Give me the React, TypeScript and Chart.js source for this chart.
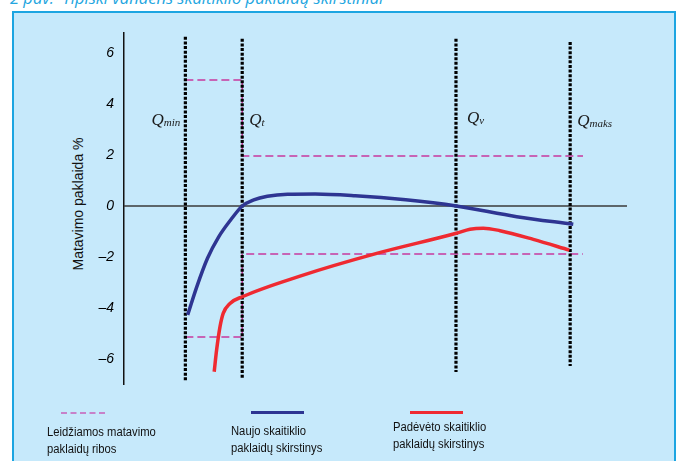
import React, { useEffect, useRef } from "react";
import { Chart, registerables } from "chart.js";

Chart.register(...registerables);

// ---- data ----
const X_MIN = 0;
const X_MAX = 100;
const Y_MIN = -6.98;
const Y_MAX = 6.78;

const yTickValues = [6, 4, 2, 0, -2, -4, -6];
const yTickLabels = ["6", "4", "2", "0", "–2", "–4", "–6"];

const qSubscripts = ["min", "t", "v", "maks"];
const qX = [12.2, 23.5, 66.0, 88.7];
const qTop = [6.63, 6.55, 6.55, 6.43];
const qBottom = [-6.86, -6.78, -6.51, -6.27];

const newMeterX = [12.66, 14.5, 16.6, 18.8, 21.2, 23.52, 25.8, 28.5, 32.5, 38, 46, 56, 66.06, 78.07, 89.32];
const newMeterY = [-4.27, -3.15, -2.05, -1.22, -0.55, 0.0, 0.24, 0.38, 0.46, 0.47, 0.4, 0.24, 0.0, -0.42, -0.72];

const oldMeterX = [17.93, 18.41, 19.09, 19.72, 21.07, 23.52, 34.99, 50.24, 66.06, 68.79, 71.43, 74.75, 81.37, 88.53];
const oldMeterY = [-6.5, -5.65, -4.73, -4.21, -3.82, -3.56, -2.75, -1.86, -1.07, -0.91, -0.87, -0.97, -1.31, -1.73];

const upperLimitX = [12.2, 23.5, 23.5, 91.25];
const upperLimitY = [4.94, 4.94, 1.96, 1.96];
const lowerLimitX = [12.2, 23.5, 23.5, 91.25];
const lowerLimitY = [-5.14, -5.14, -1.88, -1.88];

const zeroLineX = [0, 100];
const zeroLineY = [0, 0];

const titleText = "2 pav.  Tipiški vandens skaitiklio paklaidų skirstiniai";
const yAxisTitle = "Matavimo paklaida %";
const legendLabels = [
  ["Leidžiamos matavimo", "paklaidų ribos"],
  ["Naujo skaitiklio", "paklaidų skirstinys"],
  ["Padėvėto skaitiklio", "paklaidų skirstinys"],
];

// ---- styles / layout ----
const BLUE = "#2e3592";
const RED = "#ef2a31";
const MAGENTA = "#c8399e";
const LEGEND_MAGENTA = "#c781c9";
const qLabelOffsets = [-5, 7, 11, 7]; // px from the dotted line
const qLabelAlign: CanvasTextAlign[] = ["right", "left", "left", "left"];
const qLabelBaseline = [125, 125, 123, 126];

const zip = (xs: number[], ys: number[]) => xs.map((x, i) => ({ x, y: ys[i] }));

const qLabelPlugin = {
  id: "qLabels",
  afterDatasetsDraw(chart: any) {
    const { ctx, scales } = chart;
    ctx.save();
    ctx.fillStyle = "#1a1a1a";
    qX.forEach((qx, i) => {
      const px = scales.x.getPixelForValue(qx) + qLabelOffsets[i];
      const py = qLabelBaseline[i];
      ctx.font = "italic 17px 'Liberation Serif', 'DejaVu Serif', serif";
      const qw = ctx.measureText("Q").width;
      ctx.font = "italic 11px 'Liberation Serif', 'DejaVu Serif', serif";
      const sw = ctx.measureText(qSubscripts[i]).width;
      const start = qLabelAlign[i] === "right" ? px - qw - sw : px;
      ctx.textAlign = "left";
      ctx.textBaseline = "alphabetic";
      ctx.font = "italic 17px 'Liberation Serif', 'DejaVu Serif', serif";
      ctx.fillText("Q", start, py);
      ctx.font = "italic 11px 'Liberation Serif', 'DejaVu Serif', serif";
      ctx.fillText(qSubscripts[i], start + qw, py + 1);
    });
    ctx.restore();
  },
};

export default function App() {
  const canvasRef = useRef<HTMLCanvasElement | null>(null);

  useEffect(() => {
    if (!canvasRef.current) return;
    const lineBase = { pointRadius: 0, fill: false, showLine: true };
    const dotted = qX.map((x, i) => ({
      ...lineBase,
      data: [
        { x, y: qTop[i] },
        { x, y: qBottom[i] },
      ],
      borderColor: "#000",
      borderWidth: 3.2,
      borderDash: [3, 1.6],
      borderCapStyle: "butt",
      tension: 0,
    }));
    const chart = new Chart(canvasRef.current, {
      type: "line",
      data: {
        datasets: [
          {
            ...lineBase,
            data: zip(oldMeterX, oldMeterY),
            borderColor: RED,
            borderWidth: 3.5,
            cubicInterpolationMode: "monotone",
            borderCapStyle: "butt",
          },
          {
            ...lineBase,
            data: zip(newMeterX, newMeterY),
            borderColor: BLUE,
            borderWidth: 3.5,
            cubicInterpolationMode: "monotone",
            borderCapStyle: "butt",
          },
          ...dotted,
          {
            ...lineBase,
            data: zip(upperLimitX, upperLimitY),
            borderColor: MAGENTA,
            borderWidth: 1.5,
            borderDash: [8, 4],
            tension: 0,
          },
          {
            ...lineBase,
            data: zip(lowerLimitX, lowerLimitY),
            borderColor: MAGENTA,
            borderWidth: 1.5,
            borderDash: [8, 4],
            tension: 0,
          },
          {
            ...lineBase,
            data: zip(zeroLineX, zeroLineY),
            borderColor: "#3a3a3a",
            borderWidth: 1.5,
            tension: 0,
          },
        ] as any,
      },
      options: {
        animation: false,
        responsive: false,
        events: [],
        layout: { padding: { top: 33, bottom: 77, left: 0, right: 53 } },
        plugins: { legend: { display: false }, tooltip: { enabled: false } },
        scales: {
          x: { type: "linear", min: X_MIN, max: X_MAX, display: false },
          y: {
            type: "linear",
            min: Y_MIN,
            max: Y_MAX,
            afterFit: (s: any) => {
              s.width = 124;
            },
            afterBuildTicks: (s: any) => {
              s.ticks = yTickValues.map((v) => ({ value: v }));
            },
            ticks: {
              padding: 10,
              color: "#000",
              font: { family: "'Liberation Sans', Arial, sans-serif", size: 14, style: "italic" },
              callback: (v: any) => {
                const idx = yTickValues.indexOf(Number(v));
                return idx >= 0 ? yTickLabels[idx] : "";
              },
            },
            grid: { display: false, drawTicks: false },
            border: { display: true, color: "#111", width: 1.5 },
          },
        },
      } as any,
      plugins: [qLabelPlugin],
    });
    return () => chart.destroy();
  }, []);

  const legendFont = "'Liberation Sans', Arial, sans-serif";

  return (
    <div
      style={{
        position: "fixed",
        left: 0,
        top: 0,
        width: 680,
        height: 461,
        overflow: "hidden",
        background: "#fff",
      }}
    >
      <div
        style={{
          position: "absolute",
          left: 10,
          top: -11,
          fontFamily: "'Open Sans', sans-serif",
          fontStyle: "italic",
          fontSize: 16.5,
          lineHeight: "17px",
          color: "#23a6df",
          whiteSpace: "pre",
        }}
      >
        {titleText}
      </div>
      <div
        style={{
          position: "absolute",
          left: 12,
          top: 11,
          width: 660,
          height: 470,
          background: "#c6e9fb",
          border: "2px solid #1ca5e1",
        }}
      />
      <div
        style={{
          position: "absolute",
          left: 78,
          top: 204,
          transform: "translate(-50%, -50%) rotate(-90deg)",
          fontFamily: legendFont,
          fontSize: 14,
          color: "#111",
          whiteSpace: "nowrap",
        }}
      >
        {yAxisTitle}
      </div>
      <canvas
        ref={canvasRef}
        width={680}
        height={461}
        style={{ position: "absolute", left: 0, top: 0, width: 680, height: 461 }}
      />
      {/* legend */}
      <div style={{ position: "absolute", left: 61, top: 412, width: 44, borderTop: `2px dashed ${LEGEND_MAGENTA}` }} />
      <div style={{ position: "absolute", left: 251, top: 411, width: 53, height: 3, background: BLUE }} />
      <div style={{ position: "absolute", left: 410, top: 411, width: 53, height: 3, background: RED }} />
      {[
        { left: 47, top: 424 },
        { left: 231, top: 423 },
        { left: 393, top: 419 },
      ].map((p, i) => (
        <div
          key={i}
          style={{
            position: "absolute",
            left: p.left,
            top: p.top,
            fontFamily: legendFont,
            fontSize: 12.5,
            lineHeight: "16.5px",
            color: "#111",
            whiteSpace: "nowrap",
            transform: "scaleX(0.9)",
            transformOrigin: "left top",
          }}
        >
          {legendLabels[i][0]}
          <br />
          {legendLabels[i][1]}
        </div>
      ))}
    </div>
  );
}
